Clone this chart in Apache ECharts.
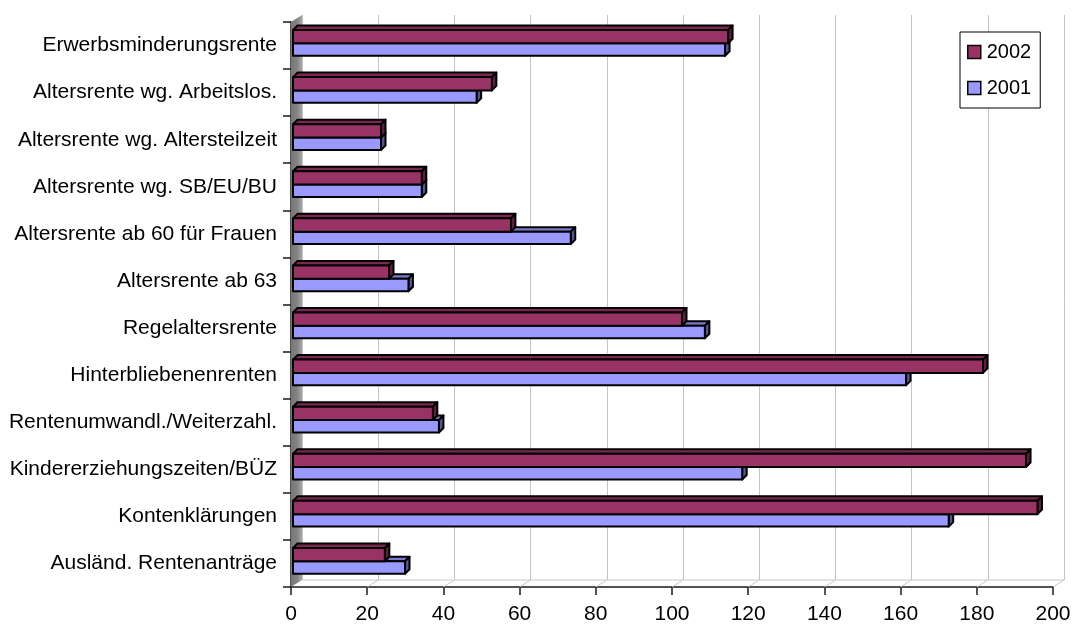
<!DOCTYPE html>
<html>
<head>
<meta charset="utf-8">
<script src="https://cdn.jsdelivr.net/npm/echarts@6/dist/echarts.min.js"></script>
<style>
  html, body { margin: 0; padding: 0; background: #fff; }
  #chart { width: 1074px; height: 625px; }
</style>
</head>
<body>
<div id="chart"></div>
<script>
// Rentenarten, von oben nach unten
const categories = [
  'Erwerbsminderungsrente',
  'Altersrente wg. Arbeitslos.',
  'Altersrente wg. Altersteilzeit',
  'Altersrente wg. SB/EU/BU',
  'Altersrente ab 60 für Frauen',
  'Altersrente ab 63',
  'Regelaltersrente',
  'Hinterbliebenenrenten',
  'Rentenumwandl./Weiterzahl.',
  'Kindererziehungszeiten/BÜZ',
  'Kontenklärungen',
  'Ausländ. Rentenanträge'
];
const values2002 = [114.2, 52.2, 23.1, 33.8, 57.2, 25.2, 102.1, 181.1, 36.7, 192.4, 195.4, 24.1];
const values2001 = [113.4, 48.2, 23.1, 33.8, 72.9, 30.3, 108.1, 160.9, 38.3, 117.9, 172.1, 29.4];
const xTicks = [0, 20, 40, 60, 80, 100, 120, 140, 160, 180, 200];

// depth of the chart box (walls/floor) and of the bars
const WALL_DX = 11, WALL_DY = 7;
const BAR_D = 4.5;
const FONT = '"Liberation Sans", Arial, sans-serif';

const styles = {
  '2002': { front: '#993366', top: '#7a2852', side: '#5e1e3f' },
  '2001': { front: '#9999ff', top: '#7a7acc', side: '#55558f' }
};

function barRenderer(name, upper) {
  const st = styles[name];
  return function (params, api) {
    const cat = api.value(0);
    const v = api.value(1);
    const c = api.coord([0, cat]);
    const e = api.coord([v, cat]);
    const h = api.size([0, 1])[1];
    const x0 = c[0] + 2, x1 = e[0] + 2;
    let yT, yB;
    if (upper) { yT = c[1] - 0.33 * h; yB = c[1] - 0.047 * h; }
    else { yT = c[1] - 0.047 * h; yB = c[1] + 0.217 * h; }
    const d = BAR_D;
    const line = { stroke: '#000', lineWidth: 2, lineJoin: 'round' };
    return {
      type: 'group',
      children: [
        { type: 'polygon', shape: { points: [[x0, yT], [x0 + d, yT - d], [x1 + d, yT - d], [x1, yT]] },
          style: Object.assign({ fill: st.top }, line) },
        { type: 'polygon', shape: { points: [[x1, yT], [x1 + d, yT - d], [x1 + d, yB - d], [x1, yB]] },
          style: Object.assign({ fill: st.side }, line) },
        { type: 'rect', shape: { x: x0, y: yT, width: x1 - x0, height: yB - yT },
          style: Object.assign({ fill: st.front }, line) }
      ]
    };
  };
}

// side wall, floor edge and floor tick diagonals
function boxRenderer(params, api) {
  const cs = params.coordSys;
  const left = cs.x, top = cs.y, bottom = cs.y + cs.height, right = cs.x + cs.width;
  const children = [
    { type: 'polygon',
      shape: { points: [[left, top], [left + WALL_DX, top - WALL_DY], [left + WALL_DX, bottom - WALL_DY], [left, bottom]] },
      style: {
        fill: new echarts.graphic.LinearGradient(0, 0, 1, 0, [
          { offset: 0, color: '#777777' },
          { offset: 0.55, color: '#838383' },
          { offset: 1, color: '#a8a8a8' }
        ]),
        stroke: null
      } },
    { type: 'line', shape: { x1: left + WALL_DX, y1: bottom - WALL_DY, x2: right + WALL_DX, y2: bottom - WALL_DY },
      style: { stroke: '#c8c8c8', lineWidth: 1 } }
  ];
  xTicks.forEach(function (t) {
    if (t === 0) return;
    const p = api.coord([t, 0]);
    children.push({ type: 'line',
      shape: { x1: p[0], y1: bottom, x2: p[0] + WALL_DX, y2: bottom - WALL_DY },
      style: { stroke: '#c8c8c8', lineWidth: 1 } });
  });
  return { type: 'group', children: children };
}

const chart = echarts.init(document.getElementById('chart'), null, { renderer: 'canvas' });

chart.setOption({
  animation: false,
  backgroundColor: '#fff',
  textStyle: { fontFamily: FONT },
  grid: [
    { left: 291, right: 21, top: 22, bottom: 38 },
    { left: 291 + WALL_DX, right: 21 - WALL_DX, top: 22 - WALL_DY, bottom: 38 + WALL_DY }
  ],
  xAxis: [
    { type: 'value', gridIndex: 0, min: 0, max: 200, interval: 20,
      axisLine: { show: true, lineStyle: { color: '#1a1a1a', width: 1.5 } },
      axisTick: { show: true, length: 8, lineStyle: { color: '#1a1a1a', width: 1.5 } },
      axisLabel: { color: '#000', fontSize: 21, fontFamily: FONT, margin: 17 },
      splitLine: { show: false } },
    { type: 'value', gridIndex: 1, min: 0, max: 200, interval: 20,
      axisLine: { show: false }, axisTick: { show: false }, axisLabel: { show: false },
      splitLine: { show: true, lineStyle: { color: '#c4c4c4', width: 1 } } }
  ],
  yAxis: [
    { type: 'category', gridIndex: 0, data: categories, inverse: true,
      axisLine: { show: true, lineStyle: { color: '#1a1a1a', width: 1.5 } },
      axisTick: { show: true, length: 8, lineStyle: { color: '#1a1a1a', width: 1.5 } },
      axisLabel: { color: '#000', fontSize: 21, fontFamily: FONT, margin: 14 },
      splitLine: { show: false } },
    { type: 'value', gridIndex: 1, show: false, splitLine: { show: false } }
  ],
  legend: {
    data: [
      { name: '2002', icon: 'rect' },
      { name: '2001', icon: 'rect' }
    ],
    orient: 'vertical',
    left: 960, top: 32,
    padding: [10, 9, 10, 7],
    itemWidth: 13, itemHeight: 13, itemGap: 16,
    borderColor: '#000', borderWidth: 1,
    backgroundColor: '#fff',
    itemStyle: { borderColor: '#000', borderWidth: 1.5 },
    textStyle: { color: '#000', fontSize: 20, fontFamily: FONT, lineHeight: 20, padding: [0, 0, 0, 1] }
  },
  series: [
    { type: 'custom', name: 'box', xAxisIndex: 0, yAxisIndex: 0, z: 1, silent: true,
      renderItem: boxRenderer, data: [[0, 0]], clip: false },
    { type: 'custom', name: '2001', xAxisIndex: 0, yAxisIndex: 0, z: 3,
      itemStyle: { color: styles['2001'].front },
      renderItem: barRenderer('2001', false), encode: { x: 1, y: 0 },
      data: values2001.map(function (v, i) { return [i, v]; }), clip: false },
    { type: 'custom', name: '2002', xAxisIndex: 0, yAxisIndex: 0, z: 4,
      itemStyle: { color: styles['2002'].front },
      renderItem: barRenderer('2002', true), encode: { x: 1, y: 0 },
      data: values2002.map(function (v, i) { return [i, v]; }), clip: false }
  ]
});
</script>
</body>
</html>
